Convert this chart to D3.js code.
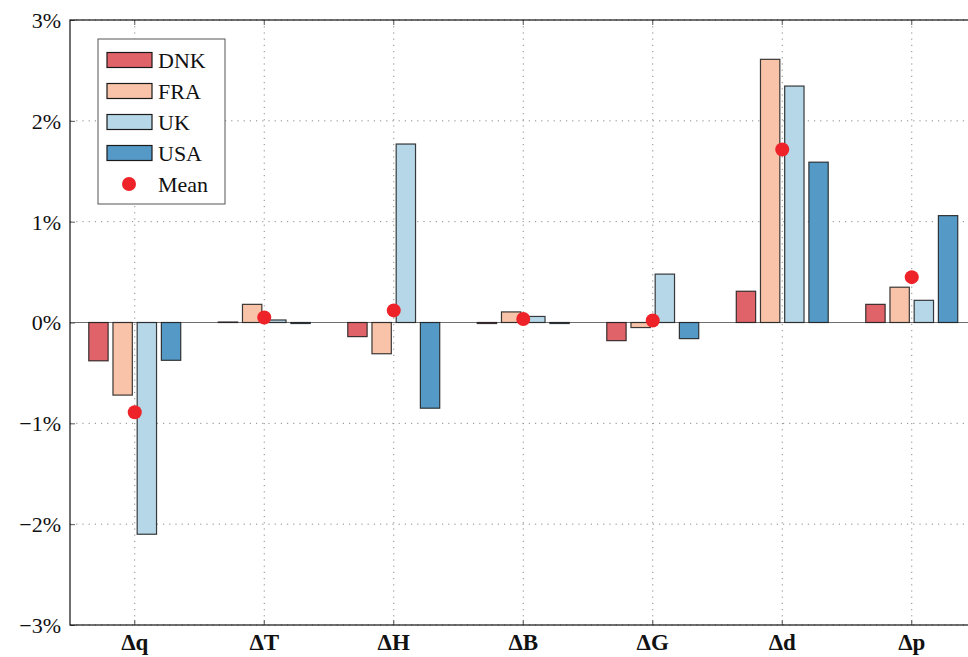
<!DOCTYPE html>
<html>
<head>
<meta charset="utf-8">
<script src="https://cdn.jsdelivr.net/npm/d3@7"></script>
<style>
    body { margin: 0; background: #fff; }
    text { font-family: "Liberation Serif", "DejaVu Serif", serif; fill: #111; }
</style>
</head>
<body>
<div id="chart"></div>
<script>
var categories = ["\u0394q", "\u0394T", "\u0394H", "\u0394B", "\u0394G", "\u0394d", "\u0394p"];
var countries = ["DNK", "FRA", "UK", "USA"];

// percent changes per country, one entry per category
var dnk = [-0.38, 0.005, -0.14, -0.01, -0.18, 0.31, 0.18];
var fra = [-0.72, 0.18, -0.31, 0.105, -0.05, 2.61, 0.35];
var uk = [-2.10, 0.025, 1.77, 0.06, 0.48, 2.345, 0.22];
var usa = [-0.375, -0.01, -0.85, -0.01, -0.16, 1.59, 1.06];
var means = [-0.89, 0.05, 0.12, 0.035, 0.02, 1.715, 0.45];

var yTicks = [-3, -2, -1, 0, 1, 2, 3];
var colors = ["#df6369", "#f8c3a8", "#b6d7e8", "#559ac7"];

var svgWidth = 968;
var svgHeight = 657;

var margin = {
    top: 20,
    left: 70
};

var width = 906.5;
var height = 605;

var seriesValues = [dnk, fra, uk, usa];
var tableData = categories.map(function(c, i) {
    return {
        cat: c,
        mean: means[i],
        values: countries.map(function(k, j) { return { key: k, value: seriesValues[j][i] }; })
    };
});

var svg = d3.select("#chart")
    .append("svg")
    .attr("width", svgWidth)
    .attr("height", svgHeight);

var chartGroup = svg.append("g")
    .attr("transform", `translate(${margin.left}, ${margin.top})`);

var x0 = d3.scaleBand()
    .domain(categories)
    .range([0, width]);

var x1 = d3.scaleBand()
    .domain(countries)
    .range([-48.4, 48.4])
    .paddingInner(0.2)
    .paddingOuter(0.1);

var y = d3.scaleLinear()
    .domain([-3, 3])
    .range([height, 0]);

var color = d3.scaleOrdinal()
    .domain(countries)
    .range(colors);

// dotted grid
chartGroup.append("g")
    .selectAll("line")
    .data(yTicks)
    .enter()
    .append("line")
    .attr("x1", 0)
    .attr("x2", width)
    .attr("y1", d => y(d))
    .attr("y2", d => y(d))
    .attr("stroke", "#8a8a8a")
    .attr("stroke-width", 1)
    .attr("stroke-dasharray", "1.2,5");

chartGroup.append("g")
    .selectAll("line")
    .data(categories)
    .enter()
    .append("line")
    .attr("x1", d => x0(d) + x0.bandwidth() / 2)
    .attr("x2", d => x0(d) + x0.bandwidth() / 2)
    .attr("y1", 0)
    .attr("y2", height)
    .attr("stroke", "#8a8a8a")
    .attr("stroke-width", 1)
    .attr("stroke-dasharray", "1.2,5");

// zero line
chartGroup.append("line")
    .attr("x1", 0)
    .attr("x2", width)
    .attr("y1", y(0))
    .attr("y2", y(0))
    .attr("stroke", "#6f6f6f")
    .attr("stroke-width", 1.2);

// bars
var groups = chartGroup.selectAll(".group")
    .data(tableData)
    .enter()
    .append("g")
    .attr("class", "group")
    .attr("transform", d => `translate(${x0(d.cat) + x0.bandwidth() / 2}, 0)`);

groups.selectAll("rect")
    .data(d => d.values)
    .enter()
    .append("rect")
    .attr("x", d => x1(d.key))
    .attr("width", x1.bandwidth())
    .attr("y", d => y(Math.max(0, d.value)))
    .attr("height", d => Math.abs(y(d.value) - y(0)))
    .attr("fill", d => color(d.key))
    .attr("stroke", "#1a1a1a")
    .attr("stroke-opacity", 0.85)
    .attr("stroke-width", 1.2);

// mean dots
groups.append("circle")
    .attr("cx", 0)
    .attr("cy", d => y(d.mean))
    .attr("r", 7)
    .attr("fill", "#ee2229");

// axes
var leftAxis = d3.axisLeft(y)
    .tickValues(yTicks)
    .tickSize(-5)
    .tickFormat(d => (d < 0 ? "\u2212" + Math.abs(d) : d) + "%");

var yAxis = chartGroup.append("g")
    .call(leftAxis)
    .attr("font-family", null)
    .attr("font-size", null);

yAxis.select(".domain").remove();
yAxis.selectAll(".tick line").attr("stroke", "#555");
yAxis.selectAll("text")
    .attr("x", -9)
    .attr("dy", "0.34em")
    .style("font-size", "22px")
    .attr("fill", "#111");

var bottomAxis = d3.axisBottom(x0)
    .tickSize(-5)
    .tickPadding(0);

var xAxis = chartGroup.append("g")
    .attr("transform", `translate(0, ${height})`)
    .call(bottomAxis)
    .attr("font-family", null)
    .attr("font-size", null);

xAxis.select(".domain").remove();
xAxis.selectAll(".tick line").attr("stroke", "#555");
xAxis.selectAll("text")
    .attr("y", 25)
    .attr("dy", 0)
    .style("font-size", "23px")
    .style("font-weight", "bold")
    .attr("fill", "#111");

// top ticks
chartGroup.append("g")
    .selectAll("line")
    .data(categories)
    .enter()
    .append("line")
    .attr("x1", d => x0(d) + x0.bandwidth() / 2)
    .attr("x2", d => x0(d) + x0.bandwidth() / 2)
    .attr("y1", 0)
    .attr("y2", 5)
    .attr("stroke", "#555");

// frame
chartGroup.append("rect")
    .attr("x", 0)
    .attr("y", 0)
    .attr("width", width)
    .attr("height", height)
    .attr("fill", "none")
    .attr("stroke", "#111")
    .attr("stroke-width", 1.2);

// legend
var legend = chartGroup.append("g")
    .attr("transform", "translate(28, 19)");

legend.append("rect")
    .attr("width", 127)
    .attr("height", 165)
    .attr("fill", "#fff")
    .attr("stroke", "#555")
    .attr("stroke-width", 1);

var legendItems = legend.selectAll(".item")
    .data(countries.concat(["Mean"]))
    .enter()
    .append("g")
    .attr("class", "item")
    .attr("transform", (d, i) => `translate(0, ${21 + i * 31})`);

legendItems.filter(d => d !== "Mean")
    .append("rect")
    .attr("x", 9)
    .attr("y", -7.5)
    .attr("width", 45)
    .attr("height", 15)
    .attr("fill", d => color(d))
    .attr("stroke", "#1a1a1a")
    .attr("stroke-width", 1.2);

legendItems.filter(d => d === "Mean")
    .append("circle")
    .attr("cx", 31)
    .attr("cy", 0)
    .attr("r", 7)
    .attr("fill", "#ee2229");

legendItems.append("text")
    .attr("x", 60)
    .attr("dy", "0.35em")
    .style("font-size", "22px")
    .text(d => d);
</script>
</body>
</html>
